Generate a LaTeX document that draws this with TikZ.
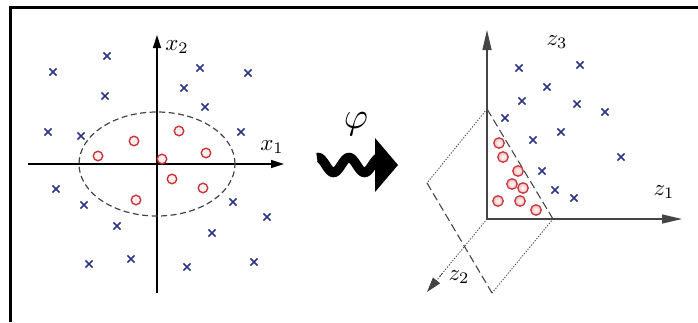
\documentclass[tikz,border=0pt]{standalone}
\usepackage{graphicx}
\usetikzlibrary{arrows.meta,shapes.misc,calc}
\definecolor{xblue}{HTML}{2B3585}
\definecolor{ored}{HTML}{C8383A}
\definecolor{dgrey}{HTML}{444444}
\tikzset{
  xmark/.style={cross out, draw=xblue, line width=1.6pt, minimum size=5.5pt, inner sep=0pt},
  omark/.style={circle, draw=ored, fill=ored!8, line width=1.4pt, minimum size=9.5pt, inner sep=0pt},
  omark3/.style={circle, draw=ored, inner color=white, outer color=ored!35, line width=1.3pt, minimum size=10.5pt, inner sep=0pt},
  axisL/.style={line width=1.3pt, -{Triangle[length=13pt,width=8pt]}},
  axisR/.style={draw=dgrey, line width=1.2pt, -{Triangle[length=20pt,width=9pt]}},
  lab/.style={inner sep=0pt},
  planedash/.style={draw=dgrey, line width=1.1pt, dash pattern=on 8pt off 4pt},
  planedot/.style={draw=dgrey, line width=0.9pt, dash pattern=on 1.2pt off 1.6pt},
}
\begin{document}
\begin{tikzpicture}[x=1pt,y=-1pt]
\useasboundingbox (0,0) rectangle (698,322);
% frame
\draw[line width=3pt] (10.5,322) -- (10.5,7.5) -- (698,7.5);

% ---------- left panel ----------
\coordinate (o1) at (157,164);
\coordinate (x1s) at (28,164);
\coordinate (x1e) at (284,164);
\coordinate (x2s) at (157,293);
\coordinate (x2e) at (157,35);
\draw[axisL] (x1s) -- (x1e);
\draw[axisL] (x2s) -- (x2e);
\node[lab] (lx2) at (177,47) {\scalebox{2.3}{$x_2$}};
\node[lab] (lx1) at (272,147) {\scalebox{2.3}{$x_1$}};
\draw[draw=dgrey, line width=1.2pt, dash pattern=on 6pt off 3.5pt] (o1) ellipse [x radius=78pt, y radius=52pt];

\foreach \p [count=\i] in {(98,156),(134,141),(179,131),(206,153),(162,159),(172,179),(203,188),(136,200)}
  \node[omark] (lo\i) at \p {};
\foreach \p [count=\i] in {(53,72),(107,56),(105,96),(200,68),(248,73),(184,88),(205,107),(48,132),(81,136),(241,132),(56,189),(84,205),(233,202),(267,217),(117,226),(212,233),(89,264),(131,259),(187,267),(254,262)}
  \node[xmark] (lx\i) at \p {};

% ---------- map arrow ----------
\node[inner sep=0pt] (phi) at (356,124) {\scalebox{3.7}{$\varphi$}};
\draw[line width=9.5pt] plot[smooth, domain=0:61, samples=60] ({317+\x}, {165-7.5*cos((\x-1)*11.613)});
\coordinate (ha) at (375,138);
\coordinate (hb) at (398,165);
\coordinate (hc) at (375,192);
\fill (ha) -- (hb) -- (hc) -- cycle;

% ---------- right panel ----------
\coordinate (o2) at (487,219);
\coordinate (z3e) at (487,30);
\coordinate (z1e) at (682,219);
\coordinate (z2e) at (427,292);
\draw[axisR] (o2) -- (z3e);
\draw[axisR] (o2) -- (z1e);
\draw[planedot] (o2) -- ($(o2)!0.8!(z2e)$);
\draw[draw=dgrey, line width=0.9pt, dash pattern=on 1.2pt off 1.6pt, -{Triangle[length=15pt,width=9pt]}] ($(o2)!0.75!(z2e)$) -- (z2e);
\node[lab] (lz3) at (557,42) {\scalebox{2.3}{$z_3$}};
\node[lab] (lz1) at (664,192) {\scalebox{2.3}{$z_1$}};
\node[lab] (lz2) at (459,277) {\scalebox{2.3}{$z_2$}};

\coordinate (pt) at (487,109);
\coordinate (pr) at (553,219);
\coordinate (pb) at (492,293);
\coordinate (pl) at (427,183);
\draw[planedot] (pt) -- (pl);
\draw[planedash] (pl) -- (pb);
\draw[planedot] (pb) -- (pr);
\draw[planedash] (pr) -- (pt);

\foreach \p [count=\i] in {(499,143),(503,157),(518,171),(512,184),(523,188),(498,201),(520,201),(536,210)}
  \node[omark3] (ro\i) at \p {};
\foreach \p [count=\i] in {(519,68),(580,65),(547,87),(522,101),(577,104),(605,112),(505,118),(561,132),(533,140),(621,157),(542,171),(555,190),(574,198)}
  \node[xmark] (rx\i) at \p {};
\end{tikzpicture}
\end{document}
